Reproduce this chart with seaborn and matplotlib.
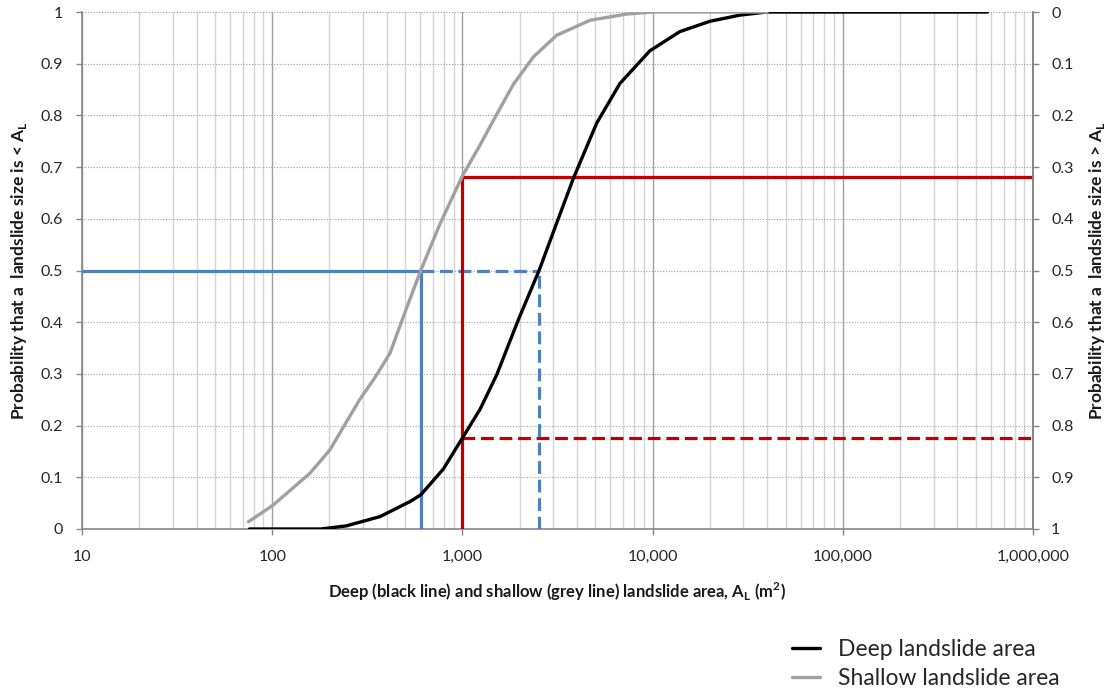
import numpy as np
import pandas as pd
import matplotlib
matplotlib.use("Agg")
import matplotlib.pyplot as plt
from matplotlib.ticker import FixedLocator, LogLocator, NullFormatter
import seaborn as sns

# ---- data ----
deep_area = [76, 180, 245, 369, 530, 604, 794, 1000, 1240, 1514, 1970, 2530, 3140,
             3830, 5080, 6740, 9680, 13900, 20000, 28800, 40000, 100000, 577000]
deep_prob = [0.0, 0.0, 0.006, 0.024, 0.053, 0.066, 0.116, 0.176, 0.232, 0.298,
             0.405, 0.5, 0.593, 0.678, 0.785, 0.862, 0.925, 0.962, 0.982, 0.994,
             1.0, 1.0, 1.0]

shallow_area = [75, 101, 158, 201, 288, 350, 416, 500, 604, 762, 1000, 1240, 1453,
                1853, 2360, 3130, 4690, 7310, 10000, 40000]
shallow_prob = [0.014, 0.046, 0.108, 0.153, 0.25, 0.295, 0.34, 0.42, 0.5, 0.59,
                0.683, 0.743, 0.79, 0.86, 0.913, 0.955, 0.984, 0.996, 1.0, 1.0]

x_min, x_max = 10, 1000000
median_shallow = 604
median_deep = 2530
p_half = 0.5
ref_area = 1000
p_shallow_at_ref = 0.68
p_deep_at_ref = 0.176

x_tick_values = [10, 100, 1000, 10000, 100000, 1000000]
x_tick_labels = ["10", "100", "1,000", "10,000", "100,000", "1,000,000"]
y_tick_values = [0, 0.1, 0.2, 0.3, 0.4, 0.5, 0.6, 0.7, 0.8, 0.9, 1.0]
y_tick_labels = ["0", "0.1", "0.2", "0.3", "0.4", "0.5", "0.6", "0.7", "0.8", "0.9", "1"]
y2_tick_labels = ["0", "0.1", "0.2", "0.3", "0.4", "0.5", "0.6", "0.7", "0.8", "0.9", "1"]

series_names = ["Deep landslide area", "Shallow landslide area"]

# ---- style ----
sns.set_theme(style="white")
plt.rcParams["font.family"] = ["Lato", "DejaVu Sans"]

blue = "#4F81BD"
red = "#C00000"
grey_curve = "#A0A0A0"
spine_c = "#868686"

fig = plt.figure(figsize=(11.08, 6.90), dpi=100)
ax = fig.add_axes([82 / 1108, 1 - 529 / 690, (1033 - 82) / 1108, (529 - 12) / 690])

ax.set_xscale("log")
ax.set_xlim(x_min, x_max)
ax.set_ylim(0, 1)

# reference lines
lw_ref = 2.3
ax.plot([x_min, median_shallow], [p_half, p_half], color=blue, lw=lw_ref, solid_capstyle="butt", zorder=3)
ax.plot([median_shallow, median_shallow], [0, p_half], color=blue, lw=lw_ref, solid_capstyle="butt", zorder=3)
ax.plot([median_shallow, median_deep], [p_half, p_half], color=blue, lw=lw_ref, dashes=(4, 1.8), zorder=3)
ax.plot([median_deep, median_deep], [0, p_half], color=blue, lw=lw_ref, dashes=(4, 1.8), zorder=3)
ax.plot([ref_area, ref_area], [0, p_shallow_at_ref], color=red, lw=lw_ref, solid_capstyle="butt", zorder=3)
ax.plot([ref_area, x_max], [p_shallow_at_ref, p_shallow_at_ref], color=red, lw=lw_ref, solid_capstyle="butt", zorder=3)
ax.plot([ref_area, x_max], [p_deep_at_ref, p_deep_at_ref], color=red, lw=lw_ref, dashes=(4, 1.8), zorder=3)

# curves
deep_df = pd.DataFrame({"area": deep_area, "prob": deep_prob})
shallow_df = pd.DataFrame({"area": shallow_area, "prob": shallow_prob})
sns.lineplot(data=deep_df, x="area", y="prob", ax=ax, color="black", lw=2.4,
             label=series_names[0], zorder=4, sort=False)
sns.lineplot(data=shallow_df, x="area", y="prob", ax=ax, color=grey_curve, lw=2.4,
             label=series_names[1], zorder=4, sort=False)
for ln in ax.lines[-2:]:
    ln.set_solid_joinstyle("round")
    ln.set_solid_capstyle("round")

# grid
ax.xaxis.set_major_locator(FixedLocator(x_tick_values))
ax.xaxis.set_minor_locator(LogLocator(base=10, subs=np.arange(2, 10)))
ax.xaxis.set_minor_formatter(NullFormatter())
ax.set_xticklabels(x_tick_labels)
ax.set_yticks(y_tick_values)
ax.set_yticklabels(y_tick_labels)
ax.grid(False)
ax.grid(True, which="major", axis="x", color="#A0A0A0", lw=1.0, ls="-", zorder=0)
ax.grid(True, which="minor", axis="x", color="#D4D4D4", lw=1.0, ls="-", zorder=0)
ax.grid(True, which="major", axis="y", color="#A0A0A0", lw=0.8, ls=(0, (1, 1.5)), zorder=0)

for s in ["left", "bottom", "right"]:
    ax.spines[s].set_color(spine_c)
    ax.spines[s].set_linewidth(1.2)
ax.spines["top"].set_visible(False)

ax.tick_params(axis="both", which="major", direction="out", length=4, width=1,
               color=spine_c, labelsize=11.5, labelcolor="#262626")
ax.tick_params(axis="y", pad=10)
ax.tick_params(axis="x", pad=11)
ax.tick_params(axis="x", which="minor", length=0)
ax.tick_params(left=True, bottom=True)

ax.set_xlabel("Deep (black line) and shallow (grey line) landslide area, A$_\\mathregular{L}$ (m$^\\mathregular{2}$)",
              fontsize=12, fontweight="bold", labelpad=12, color="#1a1a1a")
ax.set_ylabel("Probability that a  landslide size is < A$_\\mathregular{L}$",
              fontsize=12.5, fontweight="bold", labelpad=8, color="#1a1a1a")

# right axis (exceedance probability)
ax2 = ax.twinx()
ax2.set_ylim(1, 0)
ax2.set_yticks(y_tick_values)
ax2.set_yticklabels(y2_tick_labels)
ax2.grid(False)
for s in ["left", "bottom", "top"]:
    ax2.spines[s].set_visible(False)
ax2.spines["right"].set_color(spine_c)
ax2.spines["right"].set_linewidth(1.2)
ax2.tick_params(axis="y", direction="out", length=4, width=1, color=spine_c,
                labelsize=11.5, labelcolor="#262626", pad=9, right=True)
ax2.set_ylabel("Probability that a  landslide size is > A$_\\mathregular{L}$",
               fontsize=12.5, fontweight="bold", labelpad=10, color="#1a1a1a")

# legend
handles, labels = ax.get_legend_handles_labels()
ax.get_legend().remove()
fig.legend(handles, labels, loc="center left", bbox_to_anchor=(792 / 1108, 1 - 664 / 690),
           frameon=False, fontsize=16.5, handlelength=1.2, handletextpad=0.8,
           labelspacing=0.35, borderpad=0, borderaxespad=0)

fig.savefig("out.png", dpi=100)
